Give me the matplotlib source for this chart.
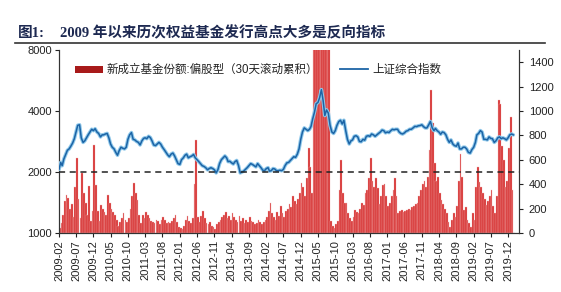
import matplotlib
matplotlib.use('Agg')
import matplotlib.pyplot as plt
import matplotlib.ticker as mticker
from matplotlib.patches import Patch
from matplotlib.lines import Line2D
import datetime as dt

# ---------------- DATA ----------------
# semi-monthly points (1st and 16th of each month), 2009-02 .. 2020-01
# Shanghai Composite Index (left axis, log scale)
line_2009 = [2060, 2230, 2150, 2320, 2440, 2560, 2600, 2680, 2780, 2920, 3150, 3400,
             3420, 2950, 2800, 2850, 2950, 3050, 3150, 3250, 3200, 3270]
line_2010 = [3150, 3100, 2980, 3050, 3050, 3080, 3100, 2950, 2750, 2650, 2600, 2500,
             2420, 2550, 2650, 2620, 2600, 2650, 2900, 3050, 3130, 2900, 2880, 2830]
line_2011 = [2800, 2720, 2850, 2930, 2950, 2920, 3000, 2960, 2850, 2720, 2700, 2750,
             2800, 2750, 2650, 2580, 2500, 2430, 2380, 2450, 2480, 2400, 2300, 2200]
line_2012 = [2180, 2300, 2350, 2420, 2450, 2350, 2380, 2400, 2440, 2350, 2300, 2250,
             2200, 2150, 2130, 2100, 2050, 2080, 2100, 2080, 2050, 1980, 2050, 2200]
line_2013 = [2300, 2350, 2400, 2350, 2250, 2260, 2220, 2190, 2250, 2280, 2150, 1980,
             2000, 2020, 2060, 2100, 2150, 2200, 2180, 2150, 2120, 2200, 2150, 2100]
line_2014 = [2040, 2030, 2080, 2100, 2020, 2030, 2080, 2070, 2030, 2030, 2040, 2030,
             2060, 2150, 2220, 2230, 2280, 2330, 2380, 2360, 2450, 2600, 2900, 3150]
line_2015 = [3300, 3250, 3200, 3250, 3350, 3650, 3950, 4350, 4400, 4650, 5100, 4500,
             3800, 4050, 3900, 3400, 3150, 3100, 3200, 3400, 3550, 3600, 3450, 3600]
line_2016 = [3200, 2900, 2750, 2850, 2880, 3000, 3020, 2980, 2830, 2820, 2900, 2870,
             3000, 3020, 3000, 3080, 3050, 3000, 3050, 3100, 3150, 3220, 3200, 3120]
line_2017 = [3150, 3130, 3200, 3250, 3230, 3250, 3250, 3150, 3100, 3080, 3120, 3180,
             3200, 3250, 3250, 3300, 3360, 3350, 3380, 3390, 3420, 3350, 3300, 3300]
line_2018 = [3420, 3550, 3300, 3200, 3280, 3200, 3150, 3070, 3150, 3130, 3050, 2900,
             2800, 2880, 2750, 2700, 2680, 2780, 2600, 2600, 2650, 2650, 2600, 2500]
line_2019 = [2480, 2580, 2650, 2800, 3050, 3100, 3200, 3150, 2900, 2900, 2880, 2980,
             2930, 2920, 2800, 2850, 2950, 2980, 2920, 2950, 2920, 2880, 2950, 3050]
line_2020 = [3080, 3050]

# new equity fund shares, 30-day rolling sum (right axis)
bars_2009 = [40, 80, 150, 260, 310, 290, 200, 240, 130, 380, 615, 280,
             120, 490, 330, 250, 150, 385, 100, 180, 720, 395]
bars_2010 = [180, 100, 230, 200, 170, 150, 310, 250, 200, 170, 150, 110,
             60, 90, 120, 160, 110, 90, 120, 200, 300, 410, 330, 270]
bars_2011 = [150, 80, 150, 120, 170, 150, 120, 100, 90, 80, 110, 100,
             70, 110, 130, 110, 80, 90, 80, 100, 120, 150, 90, 50]
bars_2012 = [40, 30, 60, 110, 140, 100, 80, 120, 400, 760, 130, 90,
             140, 180, 120, 80, 70, 90, 60, 50, 30, 70, 90, 110]
bars_2013 = [130, 150, 170, 120, 140, 110, 160, 130, 110, 90, 140, 100,
             120, 80, 110, 90, 130, 100, 90, 70, 80, 110, 90, 70]
bars_2014 = [90, 110, 130, 180, 250, 160, 130, 110, 170, 140, 220, 160,
             130, 180, 200, 240, 210, 300, 260, 240, 280, 330, 410, 380]
bars_2015 = [300, 450, 700, 540, 330, 2000, 2500, 2400, 2600, 2300, 2500, 2200,
             2400, 2000, 1800, 100, 60, 40, 70, 100, 350, 600, 330, 250]
bars_2016 = [250, 160, 120, 100, 130, 190, 170, 160, 200, 250, 230, 330,
             350, 450, 615, 430, 380, 450, 370, 240, 300, 390, 400, 300]
bars_2017 = [220, 250, 300, 350, 450, 300, 160, 180, 190, 175, 180, 190,
             200, 190, 210, 220, 240, 250, 300, 350, 400, 430, 380, 460]
bars_2018 = [680, 1170, 900, 570, 430, 460, 330, 270, 240, 200, 160, 90,
             50, 110, 160, 130, 220, 430, 650, 460, 190, 210, 110, 80]
bars_2019 = [50, 160, 110, 380, 540, 420, 380, 330, 280, 230, 260, 300,
             350, 220, 160, 300, 1090, 1060, 710, 600, 380, 430, 700, 950]
bars_2020 = [350, 0]

tick_labels = ['2009-02', '2009-07', '2009-12', '2010-05', '2010-10', '2011-03',
               '2011-08', '2012-01', '2012-06', '2012-11', '2013-04', '2013-09',
               '2014-02', '2014-07', '2014-12', '2015-05', '2015-10', '2016-03',
               '2016-08', '2017-01', '2017-06', '2017-11', '2018-04', '2018-09',
               '2019-02', '2019-07', '2019-12']
left_ticks = [1000, 2000, 4000, 8000]
right_ticks = [0, 200, 400, 600, 800, 1000, 1200, 1400]
threshold = 2000

bar_label = '新成立基金份额:偏股型（30天滚动累积）'
line_label = '上证综合指数'
title_num = '图1:'
title_text = '2009 年以来历次权益基金发行高点大多是反向指标'

# ---------------- BUILD ----------------
line_values = (line_2009 + line_2010 + line_2011 + line_2012 + line_2013 + line_2014 +
               line_2015 + line_2016 + line_2017 + line_2018 + line_2019 + line_2020)
bar_values = (bars_2009 + bars_2010 + bars_2011 + bars_2012 + bars_2013 + bars_2014 +
              bars_2015 + bars_2016 + bars_2017 + bars_2018 + bars_2019 + bars_2020)

dates = []
for y in range(2009, 2021):
    for mo in range(1, 13):
        if (y == 2009 and mo < 2) or (y == 2020 and mo > 1):
            continue
        dates.append(dt.datetime(y, mo, 1))
        dates.append(dt.datetime(y, mo, 16))

plt.rcParams['font.family'] = ['Liberation Sans', 'Noto Sans CJK SC', 'DejaVu Sans']

fig = plt.figure(figsize=(5.61, 2.92), dpi=100)
ax1 = fig.add_axes([59/561, 1-233/292, 460/561, 183/292])
ax2 = ax1.twinx()

# bars on the right axis
ax2.bar(dates, bar_values, width=15.3, align='edge', color='#D62E2E',
        edgecolor='#F2B8B8', linewidth=0.25)
ax2.set_ylim(0, 1500)
ax2.set_yticks(right_ticks)

# line on the left axis (log scale)
ax1.set_zorder(ax2.get_zorder() + 1)
ax1.patch.set_visible(False)
ax1.plot(dates, line_values, color='#8FC8EA', lw=2.6, solid_capstyle='round', zorder=3)
ax1.plot(dates, line_values, color='#1C64A6', lw=1.1, zorder=4)
ax1.axhline(threshold, color='#222222', lw=1.1, ls=(0, (4, 3)), zorder=5)
ax1.set_yscale('log')
ax1.set_ylim(1000, 8000)
ax1.yaxis.set_major_locator(mticker.FixedLocator(left_ticks))
ax1.yaxis.set_major_formatter(mticker.FixedFormatter([str(v) for v in left_ticks]))
ax1.yaxis.set_minor_locator(mticker.NullLocator())

tick_dates = [dt.datetime.strptime(t, '%Y-%m') for t in tick_labels]
ax1.set_xticks(tick_dates)
ax1.set_xticklabels(tick_labels, rotation=90)
ax1.set_xlim(dt.datetime(2009, 2, 1), dt.datetime(2020, 3, 6))

for ax in (ax1, ax2):
    ax.spines['top'].set_visible(False)
    for s in ('left', 'right', 'bottom'):
        ax.spines[s].set_color('#333333')
        ax.spines[s].set_linewidth(0.8)
    ax.tick_params(axis='both', direction='out', length=3, width=0.8,
                   labelsize=8, colors='#222222', pad=2)
ax2.tick_params(axis='y', pad=4)

# legend
handles = [Patch(facecolor='#A81A1A', edgecolor='none'),
           Line2D([0], [0], color='#1C64A6', lw=1.3)]
leg = ax1.legend(handles, [bar_label, line_label], loc='center left',
                 bbox_to_anchor=(0.035, 0.89), ncol=2, frameon=False,
                 borderaxespad=0, borderpad=0, handlelength=2.4, handleheight=0.55,
                 handletextpad=0.35, columnspacing=1.9, prop={'size': 8.3})
for t in leg.get_texts():
    t.set_color('#222222')

# title and rule
title_font = ['Liberation Serif', 'Noto Sans CJK SC', 'DejaVu Sans']
fig.text(18/561, 1-33/292, title_num, family=title_font, fontsize=10.5,
         fontweight='bold', color='#1D2951', va='center', ha='left')
fig.text(60/561, 1-33/292, title_text, family=title_font, fontsize=10.5,
         fontweight='bold', color='#1D2951', va='center', ha='left')
fig.add_artist(Line2D([15/561, 545/561], [1-43/292, 1-43/292],
                      color='#333333', lw=1.2, transform=fig.transFigure))

fig.savefig('out.png', dpi=100)
